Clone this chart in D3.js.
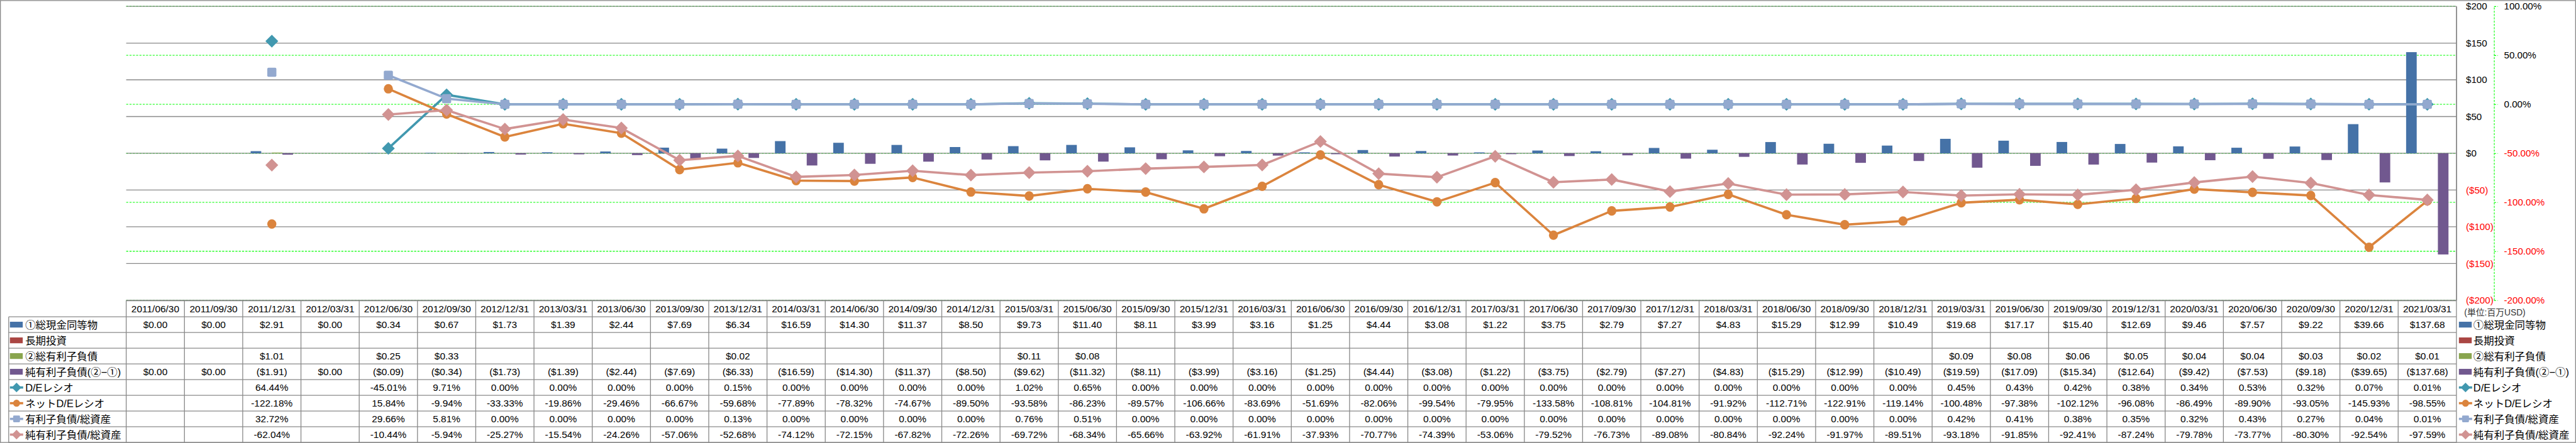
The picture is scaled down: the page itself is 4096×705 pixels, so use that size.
<!DOCTYPE html>
<html><head><meta charset="utf-8">
<script src="https://cdn.jsdelivr.net/npm/d3@7"></script>
<style>html,body{margin:0;padding:0;background:#fff;overflow:hidden}svg{display:block}</style>
</head><body>
<svg id="c"></svg>
<script>
// ---------------- data ----------------
const dates = ["2011/06/30","2011/09/30","2011/12/31","2012/03/31","2012/06/30","2012/09/30","2012/12/31","2013/03/31","2013/06/30","2013/09/30","2013/12/31","2014/03/31","2014/06/30","2014/09/30","2014/12/31","2015/03/31","2015/06/30","2015/09/30","2015/12/31","2016/03/31","2016/06/30","2016/09/30","2016/12/31","2017/03/31","2017/06/30","2017/09/30","2017/12/31","2018/03/31","2018/06/30","2018/09/30","2018/12/31","2019/03/31","2019/06/30","2019/09/30","2019/12/31","2020/03/31","2020/06/30","2020/09/30","2020/12/31","2021/03/31"];
const cash = [0,0,2.91,0,0.34,0.67,1.73,1.39,2.44,7.69,6.34,16.59,14.30,11.37,8.50,9.73,11.40,8.11,3.99,3.16,1.25,4.44,3.08,1.22,3.75,2.79,7.27,4.83,15.29,12.99,10.49,19.68,17.17,15.40,12.69,9.46,7.57,9.22,39.66,137.68];
const ltInvest = [null,null,null,null,null,null,null,null,null,null,null,null,null,null,null,null,null,null,null,null,null,null,null,null,null,null,null,null,null,null,null,null,null,null,null,null,null,null,null,null];
const debt = [null,null,1.01,null,0.25,0.33,null,null,null,null,0.02,null,null,null,null,0.11,0.08,null,null,null,null,null,null,null,null,null,null,null,null,null,null,0.09,0.08,0.06,0.05,0.04,0.04,0.03,0.02,0.01];
const netDebt = [0,0,-1.91,0,-0.09,-0.34,-1.73,-1.39,-2.44,-7.69,-6.33,-16.59,-14.30,-11.37,-8.50,-9.62,-11.32,-8.11,-3.99,-3.16,-1.25,-4.44,-3.08,-1.22,-3.75,-2.79,-7.27,-4.83,-15.29,-12.99,-10.49,-19.59,-17.09,-15.34,-12.64,-9.42,-7.53,-9.18,-39.65,-137.68];
const deRatio = [null,null,64.44,null,-45.01,9.71,0,0,0,0,0.15,0,0,0,0,1.02,0.65,0,0,0,0,0,0,0,0,0,0,0,0,0,0,0.45,0.43,0.42,0.38,0.34,0.53,0.32,0.07,0.01];
const netDeRatio = [null,null,-122.18,null,15.84,-9.94,-33.33,-19.86,-29.46,-66.67,-59.68,-77.89,-78.32,-74.67,-89.50,-93.58,-86.23,-89.57,-106.66,-83.69,-51.69,-82.06,-99.54,-79.95,-133.58,-108.81,-104.81,-91.92,-112.71,-122.91,-119.14,-100.48,-97.38,-102.12,-96.08,-86.49,-89.90,-93.05,-145.93,-98.55];
const debtToAssets = [null,null,32.72,null,29.66,5.81,0,0,0,0,0.13,0,0,0,0,0.76,0.51,0,0,0,0,0,0,0,0,0,0,0,0,0,0,0.42,0.41,0.38,0.35,0.32,0.43,0.27,0.04,0.01];
const netDebtToAssets = [null,null,-62.04,null,-10.44,-5.94,-25.27,-15.54,-24.26,-57.06,-52.68,-74.12,-72.15,-67.82,-72.26,-69.72,-68.34,-65.66,-63.92,-61.91,-37.93,-70.77,-74.39,-53.06,-79.52,-76.73,-89.08,-80.84,-92.24,-91.97,-89.51,-93.18,-91.85,-92.41,-87.24,-79.78,-73.77,-80.30,-92.54,-97.59];

const dollarTicks = [200,150,100,50,0,-50,-100,-150,-200];
const pctTicks = [100,50,0,-50,-100,-150,-200];
const unitLabel = "(単位:百万USD)";

const barSeries = [
  {name:"①総現金同等物", values:cash, color:"#4572A7"},
  {name:"長期投資", values:ltInvest, color:"#AA4643"},
  {name:"②総有利子負債", values:debt, color:"#89A54E"},
  {name:"純有利子負債(②−①)", values:netDebt, color:"#71588F"}
];
const lineSeries = [
  {name:"D/Eレシオ", values:deRatio, color:"#4198AF", marker:"diamond"},
  {name:"ネットD/Eレシオ", values:netDeRatio, color:"#DB843D", marker:"circle"},
  {name:"有利子負債/総資産", values:debtToAssets, color:"#93A9CF", marker:"square"},
  {name:"純有利子負債/総資産", values:netDebtToAssets, color:"#D19392", marker:"diamond"}
];

// ---------------- layout (reference pixel units, scaled by viewBox) ----------------
const W = 6226, H = 1071;
const plotL = 305, plotR = 5937, plotT = 15, plotB = 726;
const headTop = 727, headH = 39, rowH = 38;
const labelL = 21;
const gray = "#898989";
const FONT = "'Liberation Sans', Arial, 'Noto Sans CJK JP', sans-serif";

const svg = d3.select("#c").attr("width", 4096).attr("height", 705)
  .attr("viewBox", `0 0 ${W} ${H}`).style("font-family", FONT);
svg.append("rect").attr("x",1).attr("y",1).attr("width",W-2).attr("height",H-2)
  .attr("fill","#fff").attr("stroke",gray).attr("stroke-width",2);

const x = d3.scaleBand().domain(dates).range([plotL, plotR]);
const bw = x.bandwidth();
const xs = d3.scaleBand().domain(barSeries.map(d=>d.name)).range([bw*0.75/5.5, bw*4.75/5.5]);
const yD = d3.scaleLinear().domain([-200,200]).range([plotB, plotT]);
const yP = d3.scaleLinear().domain([-200,100]).range([plotB, plotT]);

const fmtDollar = v => v == null ? "" : (v < 0 ? `($${(-v).toFixed(2)})` : `$${v.toFixed(2)}`);
const fmtDollarTick = v => v < 0 ? `($${-v})` : `$${v}`;
const fmtPct = v => v == null ? "" : `${v.toFixed(2)}%`;

// green dashed % gridlines
svg.append("g").selectAll("line").data(pctTicks).join("line")
  .attr("x1", plotL).attr("x2", plotR).attr("y1", d=>yP(d)).attr("y2", d=>yP(d))
  .attr("stroke","#00FF00").attr("stroke-width",1.6).attr("stroke-dasharray","5,3");
// gray $ gridlines
svg.append("g").selectAll("line").data(dollarTicks).join("line")
  .attr("x1", plotL).attr("x2", plotR).attr("y1", d=>yD(d)).attr("y2", d=>yD(d))
  .attr("stroke",gray).attr("stroke-width",2);

// bars
const bars = svg.append("g");
barSeries.forEach(s => {
  bars.append("g").selectAll("rect")
    .data(s.values.map((v,i)=>({v, d:dates[i]})).filter(o=>o.v!=null && o.v!==0))
    .join("rect")
    .attr("x", o => x(o.d) + xs(s.name))
    .attr("width", xs.bandwidth())
    .attr("y", o => yD(Math.max(0,o.v)))
    .attr("height", o => Math.abs(yD(o.v) - yD(0)))
    .attr("fill", s.color);
});

// markers
function drawMarker(g, type, color, k) {
  if (type === "diamond") {
    const h = 15.5*k;
    g.append("path").attr("d", `M0,${-h}L${h},0L0,${h}L${-h},0Z`).attr("fill", color);
  } else if (type === "circle") {
    g.append("ellipse").attr("rx", 11*k).attr("ry", 11.5*k).attr("fill", color);
  } else {
    const a = 11*k;
    g.append("rect").attr("x",-a).attr("y",-a).attr("width",2*a).attr("height",2*a)
      .attr("rx",3*k).attr("fill", color);
  }
}

// lines
const lineGen = d3.line().defined(o => o.v != null).x(o => x(o.d) + bw/2).y(o => yP(o.v));
lineSeries.forEach(s => {
  const pts = s.values.map((v,i)=>({v, d:dates[i]}));
  const g = svg.append("g");
  g.append("path").attr("d", lineGen(pts)).attr("fill","none")
    .attr("stroke", s.color).attr("stroke-width",5.5).attr("stroke-linejoin","round");
  pts.filter(o=>o.v!=null).forEach(o => {
    const mg = g.append("g").attr("transform", `translate(${x(o.d)+bw/2},${yP(o.v)})`);
    drawMarker(mg, s.marker, s.color, 1);
  });
});

// $ axis (right of plot)
const axD = svg.append("g").attr("transform", `translate(${plotR},0)`)
  .call(d3.axisRight(yD).tickValues(dollarTicks).tickFormat(fmtDollarTick).tickSizeInner(0).tickSizeOuter(0).tickPadding(23));
axD.select(".domain").attr("stroke", gray).attr("stroke-width",2);
axD.selectAll("text").attr("font-size",23).attr("font-family",FONT)
  .attr("fill", d => d < 0 ? "#FF0000" : "#000");

// % axis
const axP = svg.append("g").attr("transform", `translate(6028,0)`)
  .call(d3.axisRight(yP).tickValues(pctTicks).tickFormat(d=>`${d.toFixed(2)}%`).tickSizeInner(9).tickSizeOuter(0).tickPadding(15));
axP.select(".domain").attr("stroke","#00FF00").attr("stroke-width",1.6).attr("stroke-dasharray","5,3");
axP.selectAll(".tick line").attr("stroke","#00FF00").attr("stroke-width",1.6).attr("stroke-dasharray","5,3");
axP.selectAll("text").attr("font-size",23).attr("font-family",FONT)
  .attr("fill", d => d < 0 ? "#FF0000" : "#000");

// plot right edge through the table
svg.append("line").attr("x1",plotR).attr("x2",plotR).attr("y1",plotT).attr("y2",H-1)
  .attr("stroke",gray).attr("stroke-width",2);

// ---------------- data table ----------------
const rows = [
  {s:barSeries[0], kind:"bar", fmt:fmtDollar},
  {s:barSeries[1], kind:"bar", fmt:fmtDollar},
  {s:barSeries[2], kind:"bar", fmt:fmtDollar},
  {s:barSeries[3], kind:"bar", fmt:fmtDollar},
  {s:lineSeries[0], kind:"line", fmt:fmtPct},
  {s:lineSeries[1], kind:"line", fmt:fmtPct},
  {s:lineSeries[2], kind:"line", fmt:fmtPct},
  {s:lineSeries[3], kind:"line", fmt:fmtPct}
];
const dataTop = headTop + headH;
const tableBottom = dataTop + rowH*rows.length;
const tg = svg.append("g");
// horizontal lines
tg.append("line").attr("x1",plotL).attr("x2",plotR).attr("y1",headTop).attr("y2",headTop).attr("stroke",gray).attr("stroke-width",2);
for (let r=0; r<=rows.length; r++) {
  const yy = dataTop + r*rowH;
  tg.append("line").attr("x1",labelL).attr("x2",plotR).attr("y1",yy).attr("y2",yy).attr("stroke",gray).attr("stroke-width",2);
}
// vertical lines
tg.append("line").attr("x1",labelL).attr("x2",labelL).attr("y1",dataTop).attr("y2",tableBottom).attr("stroke",gray).attr("stroke-width",2);
dates.forEach(d => {
  tg.append("line").attr("x1",x(d)).attr("x2",x(d)).attr("y1",headTop).attr("y2",tableBottom).attr("stroke",gray).attr("stroke-width",2);
});
// header
tg.append("g").selectAll("text").data(dates).join("text")
  .attr("x", d=>x(d)+bw/2).attr("y", headTop+headH/2).attr("dy","0.35em")
  .attr("text-anchor","middle").attr("font-size",23.5).text(d=>d);
// cells
rows.forEach((row, r) => {
  const cy = dataTop + rowH*(r+0.5);
  tg.append("g").selectAll("text").data(row.s.values.map((v,i)=>({v,d:dates[i]}))).join("text")
    .attr("x", o=>x(o.d)+bw/2).attr("y", cy).attr("dy","0.35em")
    .attr("text-anchor","middle").attr("font-size",23.5).text(o=>row.fmt(o.v));
});

function drawKey(g, row, kx) {
  if (row.kind === "bar") {
    g.append("rect").attr("x",kx).attr("y",-7).attr("width",31).attr("height",14).attr("fill",row.s.color);
  } else {
    g.append("line").attr("x1",kx).attr("x2",kx+32).attr("y1",0).attr("y2",0)
      .attr("stroke",row.s.color).attr("stroke-width",5.5);
    const mg = g.append("g").attr("transform",`translate(${kx+16},0)`);
    drawMarker(mg, row.s.marker, row.s.color, 0.75);
  }
}
// row labels (in table) and legend (right)
rows.forEach((row, r) => {
  const cy = dataTop + rowH*(r+0.5);
  const g1 = tg.append("g").attr("transform",`translate(0,${cy})`);
  drawKey(g1, row, 24);
  g1.append("text").attr("x",61).attr("dy","0.36em").attr("font-size",25).text(row.s.name);
  const g2 = svg.append("g").attr("transform",`translate(0,${cy})`);
  drawKey(g2, row, 5943);
  g2.append("text").attr("x",5978).attr("dy","0.36em").attr("font-size",25).text(row.s.name);
});
svg.append("text").attr("x",5956).attr("y",755).attr("dy","0.35em").attr("font-size",21)
  .attr("fill","#333").text(unitLabel);
</script>
</body></html>
